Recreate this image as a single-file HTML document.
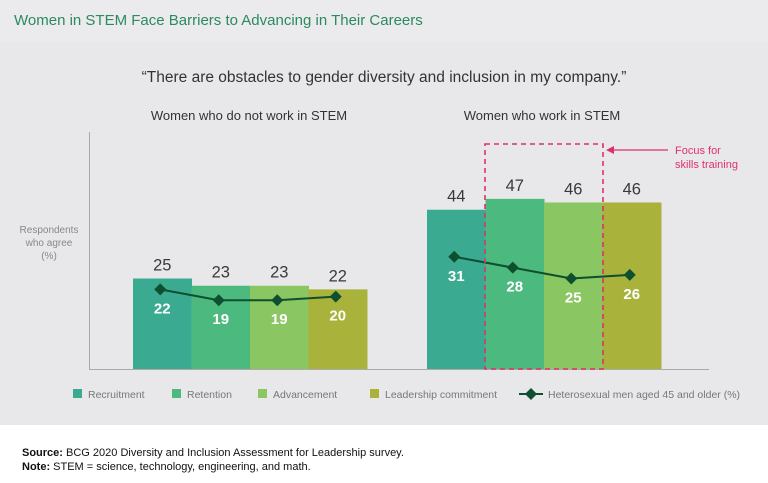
<!DOCTYPE html>
<html><head><meta charset="utf-8"><style>
body{margin:0;width:768px;height:483px;overflow:hidden;background:#fff;font-family:"Liberation Sans",sans-serif}
#top{position:absolute;left:0;top:0;width:768px;height:425px;background:#e8e8ea}
#head{position:absolute;left:0;top:0;width:768px;height:42px;background:#ebebed}
</style></head><body>
<div id="top"></div>
<div id="head"></div>
<svg width="768" height="483" style="position:absolute;left:0;top:0">
<text x="14" y="25" font-size="15" fill="#2b8a5e">Women in STEM Face Barriers to Advancing in Their Careers</text>
<text x="384" y="82" font-size="15.5" fill="#333" text-anchor="middle">“There are obstacles to gender diversity and inclusion in my company.”</text>
<text x="249" y="120" font-size="13" fill="#333" text-anchor="middle">Women who do not work in STEM</text>
<text x="542" y="120" font-size="13" fill="#333" text-anchor="middle">Women who work in STEM</text>
<g font-size="10" fill="#888" text-anchor="middle">
<text x="49" y="233">Respondents</text><text x="49" y="246">who agree</text><text x="49" y="259">(%)</text></g>
<line x1="89.5" y1="132" x2="89.5" y2="369" stroke="#aaa"/>
<line x1="89" y1="369.5" x2="709" y2="369.5" stroke="#aaa"/>
<g id="bars"></g><g id="line"></g>
<rect x="485" y="144" width="118" height="225" fill="none" stroke="#e0306a" stroke-width="1.6" stroke-dasharray="5,4"/>
<line x1="612" y1="150" x2="668" y2="150" stroke="#e0306a" stroke-width="1.2"/>
<polygon points="606,150 614,146 614,154" fill="#e0306a"/>
<g font-size="11" fill="#e0306a"><text x="675" y="154">Focus for</text><text x="675" y="168">skills training</text></g>
<g id="legend" font-size="10.5" fill="#777"></g>
<text x="22" y="456" font-size="11" fill="#111"><tspan font-weight="bold">Source:</tspan> BCG 2020 Diversity and Inclusion Assessment for Leadership survey.</text>
<text x="22" y="470" font-size="11" fill="#111"><tspan font-weight="bold">Note:</tspan> STEM = science, technology, engineering, and math.</text>
</svg>
<script>
const groups=["Women who do not work in STEM","Women who work in STEM"];
const categories=["Recruitment","Retention","Advancement","Leadership commitment"];
const nonStem=[25,23,23,22];
const stem=[44,47,46,46];
const menNonStem=[22,19,19,20];
const menStem=[31,28,25,26];
const colors=["#3aab91","#4cba7f","#8ac662","#a9b33b"];
const NS="http://www.w3.org/2000/svg";
const base=369,unit=3.62,bw=58.5,groupX=[133,427];
const y=v=>base-v*unit;
const x=(g,i)=>groupX[g]+i*bw;
function el(t,a,p){const e=document.createElementNS(NS,t);for(const k in a)e.setAttribute(k,a[k]);p.appendChild(e);return e;}
const bars=document.getElementById('bars'),line=document.getElementById('line');
[nonStem,stem].forEach((vals,g)=>{
 vals.forEach((v,i)=>{
  const r=el('rect',{x:x(g,i),y:y(v),width:bw+0.5,height:v*unit,fill:colors[i]},bars);
  
  
  const t=el('text',{x:x(g,i)+bw/2,y:y(v)-8,'font-size':16.5,fill:'#3a3a3a','text-anchor':'middle'},bars);
  t.textContent=v;
  
  
 });
 const mv=g?menStem:menNonStem;
 const pts=mv.map((v,i)=>[x(g,i)+bw/2-2,y(v)]);
 const pl=el('polyline',{points:pts.map(p=>p.join(',')).join(' '),fill:'none',stroke:'#0d4f2e','stroke-width':2},line);
 
 
 pts.forEach((p,i)=>{
  const d=el('polygon',{points:`${p[0]},${p[1]-6} ${p[0]+6},${p[1]} ${p[0]},${p[1]+6} ${p[0]-6},${p[1]}`,fill:'#0d4f2e'},line);
  
  
  const t=el('text',{x:p[0]+2,y:p[1]+24,'font-size':15,'font-weight':'bold',fill:'#fff','text-anchor':'middle'},line);
  t.textContent=mv[i];
  
  
 });
});
const lg=document.getElementById('legend');
const lx=[73,172,258,370];
categories.forEach((c,i)=>{
 const r=el('rect',{x:lx[i],y:389,width:9,height:9,fill:colors[i]},lg);
 
 
 const t=el('text',{x:lx[i]+15,y:398},lg);t.textContent=c;
 
 
});
const ll=el('line',{x1:519,y1:394,x2:543,y2:394,stroke:'#0d4f2e','stroke-width':2},lg);


const ld=el('polygon',{points:'531,388 537,394 531,400 525,394',fill:'#0d4f2e'},lg);


const lt=el('text',{x:548,y:398},lg);lt.textContent='Heterosexual men aged 45 and older (%)';


</script>
</body></html>
